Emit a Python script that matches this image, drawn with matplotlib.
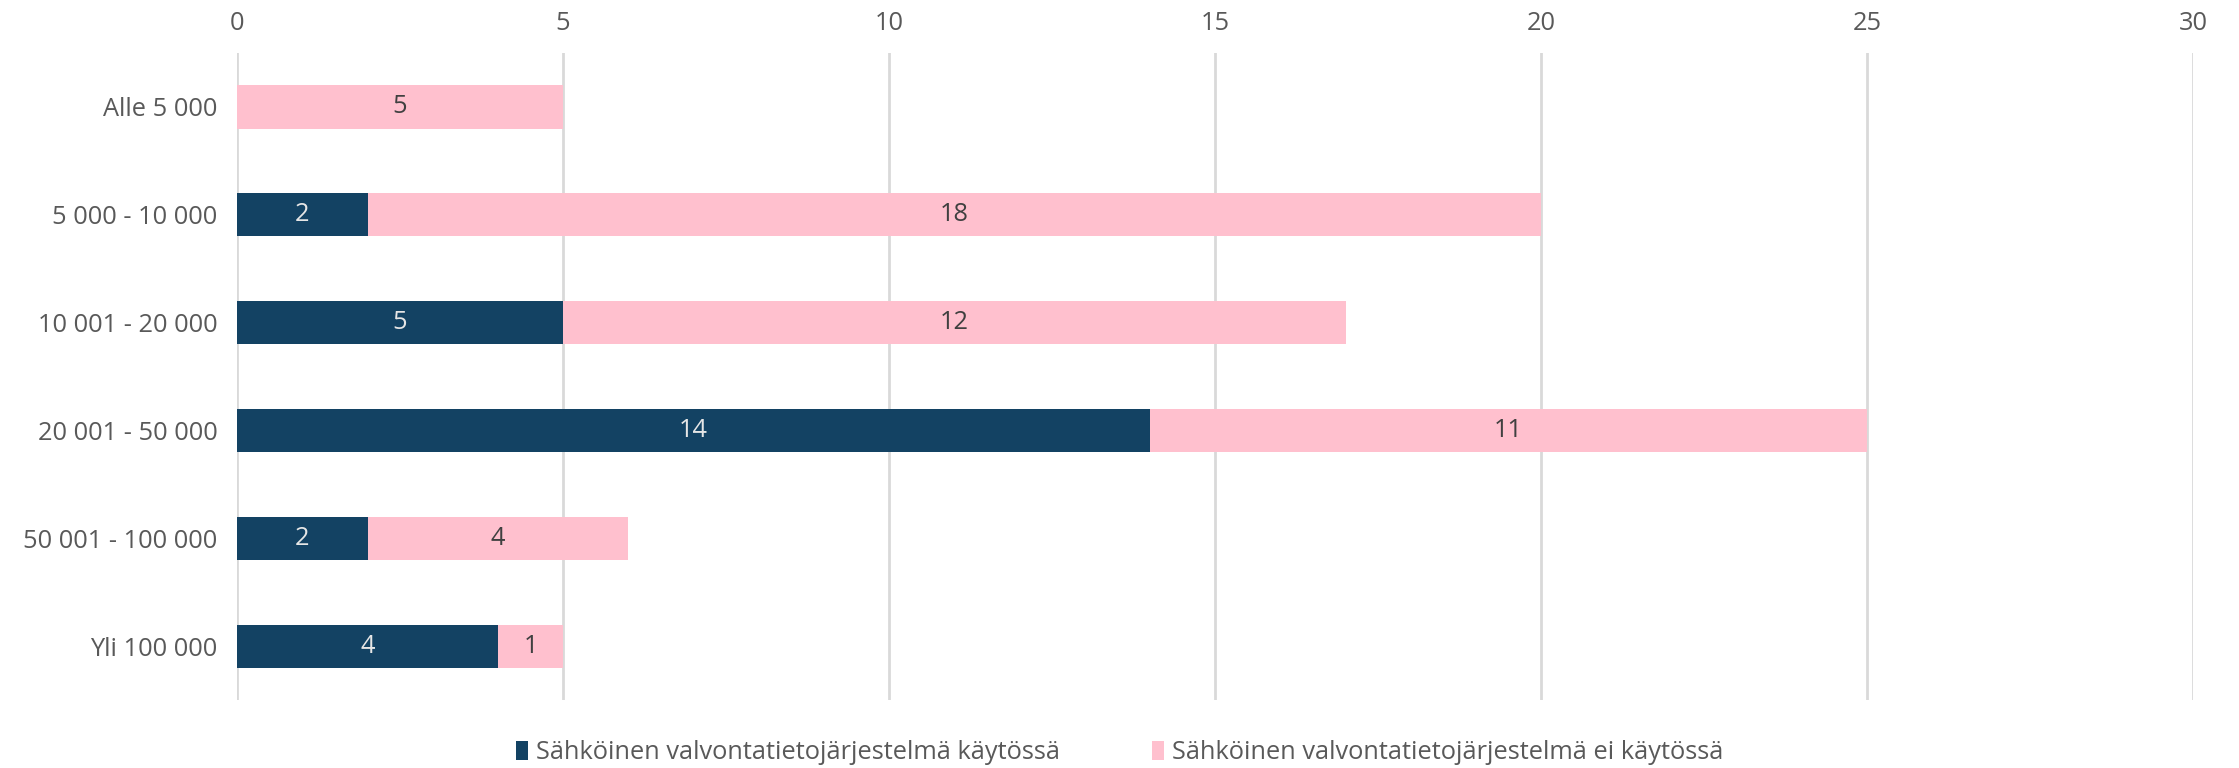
import matplotlib.pyplot as plt
import numpy as np

# data
categories = ['Alle 5 000', '5 000 - 10 000', '10 001 - 20 000',
              '20 001 - 50 000', '50 001 - 100 000', 'Yli 100 000']
kaytossa = [0, 2, 5, 14, 2, 4]
ei_kaytossa = [5, 18, 12, 11, 4, 1]
series_labels = ['Sähköinen valvontatietojärjestelmä käytössä',
                 'Sähköinen valvontatietojärjestelmä ei käytössä']
x_ticks = [0, 5, 10, 15, 20, 25, 30]

plt.rcParams['font.family'] = ['Open Sans', 'DejaVu Sans']

dark = '#134263'
pink = '#FFC0CE'
text_col = '#595959'
fs = 18.3

fig = plt.figure(figsize=(22.39, 7.68), dpi=100)
ax = fig.add_axes([0.1059, 0.0885, 0.8736, 0.8424])

y = np.arange(len(categories))
bars1 = ax.barh(y, kaytossa, height=0.4, color=dark, label=series_labels[0], zorder=3)
bars2 = ax.barh(y, ei_kaytossa, left=kaytossa, height=0.4, color=pink,
                label=series_labels[1], zorder=3)

# value labels inside the segments
for rect, v in zip(bars1, kaytossa):
    if v > 0:
        ax.text(rect.get_x() + rect.get_width() / 2, rect.get_y() + rect.get_height() / 2,
                str(v), ha='center', va='center', color='#e6e6e6', fontsize=fs, zorder=4)
for rect, v in zip(bars2, ei_kaytossa):
    if v > 0:
        ax.text(rect.get_x() + rect.get_width() / 2, rect.get_y() + rect.get_height() / 2,
                str(v), ha='center', va='center', color='#404040', fontsize=fs, zorder=4)

ax.set_xlim(0, 30)
ax.set_ylim(len(categories) - 0.5, -0.5)
ax.set_yticks(y)
ax.set_yticklabels(categories)
ax.set_xticks(x_ticks)
ax.xaxis.tick_top()
ax.tick_params(axis='both', length=0, labelsize=fs, labelcolor=text_col)
ax.tick_params(axis='x', pad=12)
ax.tick_params(axis='y', pad=14)

ax.grid(axis='x', color='#d9d9d9', linewidth=2, zorder=0)
for s in ax.spines.values():
    s.set_visible(False)

leg = fig.legend(loc='center', bbox_to_anchor=(0.5, 0.02), ncol=2, frameon=False,
                 fontsize=fs, handlelength=0.5, handleheight=0.75, handletextpad=0.3,
                 columnspacing=3.6)
for t in leg.get_texts():
    t.set_color(text_col)

plt.savefig('out.png', dpi=100)
